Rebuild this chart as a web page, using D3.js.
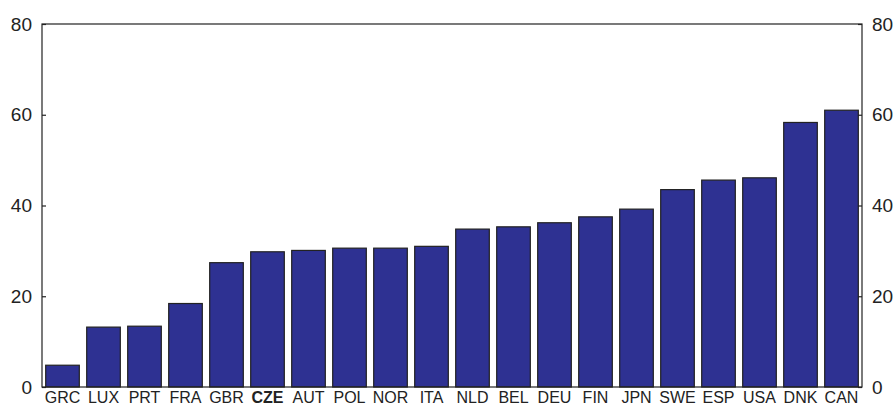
<!DOCTYPE html>
<html lang="en">
  <head>
    <meta charset="UTF-8" />
    <script src="https://d3js.org/d3.v7.min.js"></script>
    <style>
      body { margin: 0; background: #fff; }
      text { font-family: "Liberation Sans", Arial, sans-serif; fill: #222; }
    </style>
  </head>
  <body>
    <svg id="chart" width="895" height="405"></svg>
    <script>
      // Data
      var countries = ['GRC', 'LUX', 'PRT', 'FRA', 'GBR', 'CZE', 'AUT', 'POL', 'NOR', 'ITA',
        'NLD', 'BEL', 'DEU', 'FIN', 'JPN', 'SWE', 'ESP', 'USA', 'DNK', 'CAN'];
      var values = [4.8, 13.2, 13.4, 18.4, 27.4, 29.8, 30.1, 30.6, 30.6, 31.0,
        34.8, 35.3, 36.2, 37.5, 39.2, 43.5, 45.6, 46.1, 58.3, 61.0];
      var yTicks = [0, 20, 40, 60, 80];
      var highlight = 'CZE';

      var svg = d3.select('#chart');
      // plot area (note: "top" is a reserved window property)
      var plotLeft = 42, plotRight = 862, plotTop = 24, plotBottom = 387;

      var x = d3.scaleBand()
        .domain(countries)
        .range([plotLeft, plotRight])
        .paddingInner(0.18)
        .paddingOuter(0.09);

      var y = d3.scaleLinear().domain([0, 80]).range([plotBottom, plotTop]);

      // bars
      svg.append('g')
        .selectAll('rect')
        .data(countries)
        .enter()
        .append('rect')
        .attr('x', function(d) { return x(d); })
        .attr('width', x.bandwidth())
        .attr('y', function(d, i) { return y(values[i]); })
        .attr('height', function(d, i) { return plotBottom - y(values[i]); })
        .attr('fill', '#2E3192')
        .attr('stroke', '#222')
        .attr('stroke-width', 1.2);

      // frame
      svg.append('rect')
        .attr('x', plotLeft).attr('y', plotTop)
        .attr('width', plotRight - plotLeft).attr('height', plotBottom - plotTop)
        .attr('fill', 'none')
        .attr('stroke', '#222')
        .attr('stroke-width', 1.2);

      // left and right axes, ticks pointing inwards
      var yLeft = d3.axisLeft(y).tickValues(yTicks).tickSizeInner(-4).tickSizeOuter(0).tickPadding(10);
      var yRight = d3.axisRight(y).tickValues(yTicks).tickSizeInner(-4).tickSizeOuter(0).tickPadding(10);

      var gl = svg.append('g').attr('transform', 'translate(' + plotLeft + ',0)').call(yLeft);
      var gr = svg.append('g').attr('transform', 'translate(' + plotRight + ',0)').call(yRight);
      [gl, gr].forEach(function(g) {
        g.select('.domain').remove();
        g.selectAll('line').attr('stroke', '#222').attr('stroke-width', 1.2);
        g.selectAll('text')
          .attr('font-size', 19)
          .attr('font-family', '"Liberation Sans", Arial, sans-serif')
          .attr('fill', '#222');
      });

      // category labels
      svg.append('g')
        .selectAll('text')
        .data(countries)
        .enter()
        .append('text')
        .attr('x', function(d) { return x(d) + x.bandwidth() / 2; })
        .attr('y', 403)
        .attr('text-anchor', 'middle')
        .attr('font-size', 16)
        .attr('font-weight', function(d) { return d === highlight ? 'bold' : 'normal'; })
        .text(function(d) { return d; });
    </script>
  </body>
</html>
